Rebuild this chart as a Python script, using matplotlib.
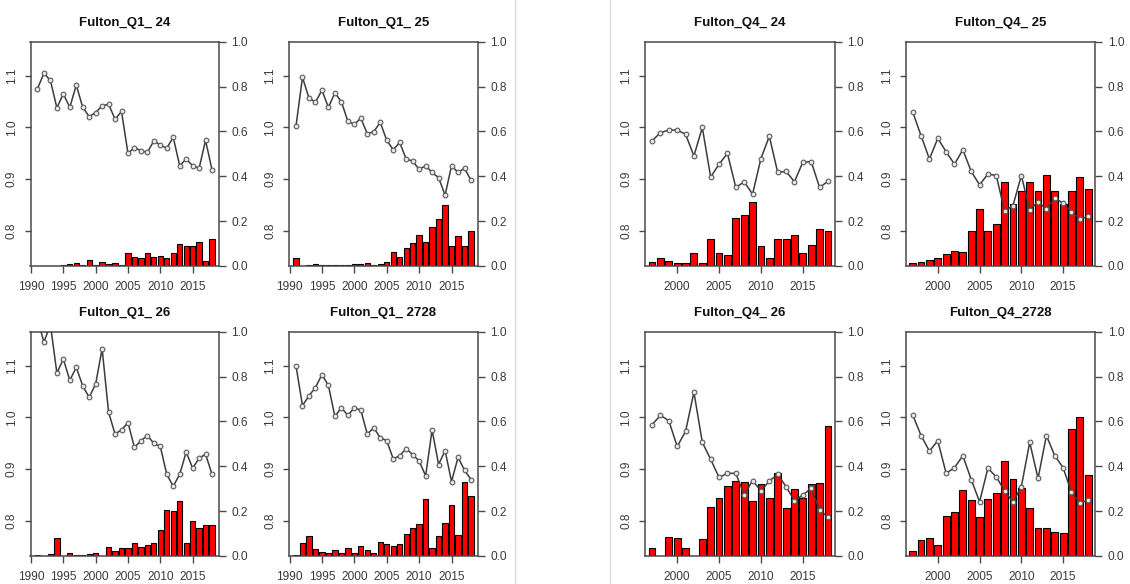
import matplotlib
matplotlib.use("Agg")
import matplotlib.pyplot as plt
from matplotlib.lines import Line2D

plt.rcParams['font.family'] = ['Liberation Sans', 'DejaVu Sans']

W, H = 1130, 584

years_q1 = list(range(1991, 2019))
years_q4 = list(range(1997, 2019))

# ----- condition factor (left axis, line) -----
k_q1_24 = [1.075, 1.105, 1.091, 1.038, 1.065, 1.039, 1.082, 1.039, 1.021, 1.029,
           1.042, 1.045, 1.016, 1.031, 0.950, 0.961, 0.955, 0.952, 0.974, 0.966,
           0.960, 0.981, 0.926, 0.939, 0.926, 0.921, 0.975, 0.918]
k_q1_25 = [1.003, 1.097, 1.057, 1.049, 1.072, 1.039, 1.067, 1.050, 1.012, 1.006,
           1.018, 0.988, 0.992, 1.010, 0.975, 0.957, 0.971, 0.939, 0.935, 0.919,
           0.926, 0.913, 0.903, 0.869, 0.926, 0.913, 0.921, 0.898]
k_q1_26 = [1.190, 1.146, 1.180, 1.086, 1.113, 1.072, 1.097, 1.061, 1.039, 1.065,
           1.133, 1.010, 0.968, 0.976, 0.990, 0.942, 0.955, 0.965, 0.950, 0.944,
           0.890, 0.867, 0.890, 0.933, 0.902, 0.921, 0.929, 0.890]
k_q1_2728 = [1.100, 1.023, 1.042, 1.058, 1.083, 1.062, 1.002, 1.019, 1.004, 1.019,
             1.014, 0.968, 0.980, 0.961, 0.955, 0.920, 0.926, 0.940, 0.928, 0.916,
             0.887, 0.976, 0.909, 0.936, 0.876, 0.923, 0.898, 0.880]
k_q4_24 = [0.974, 0.990, 0.995, 0.995, 0.987, 0.945, 1.000, 0.904, 0.929, 0.950,
           0.884, 0.895, 0.871, 0.940, 0.983, 0.913, 0.915, 0.895, 0.933, 0.934,
           0.884, 0.896]
k_q4_25 = [1.030, 0.984, 0.939, 0.979, 0.953, 0.929, 0.957, 0.915, 0.889, 0.910,
           0.907, 0.838, 0.849, 0.907, 0.841, 0.856, 0.842, 0.864, 0.853, 0.837,
           0.823, 0.828]
k_q4_26 = [0.986, 1.004, 0.994, 0.944, 0.973, 1.049, 0.952, 0.919, 0.884, 0.892,
           0.892, 0.850, 0.878, 0.858, 0.877, 0.890, 0.866, 0.839, 0.850, 0.863,
           0.821, 0.807]
k_q4_2728 = [1.005, 0.965, 0.935, 0.955, 0.892, 0.903, 0.926, 0.880, 0.837, 0.902,
             0.885, 0.858, 0.836, 0.866, 0.952, 0.882, 0.965, 0.926, 0.903, 0.855,
             0.835, 0.840]

# ----- proportion (right axis, bars) -----
p_q1_24 = [0.0, 0.0, 0.0, 0.0, 0.003, 0.009, 0.015, 0.003, 0.028, 0.004,
           0.019, 0.009, 0.012, 0.003, 0.057, 0.039, 0.034, 0.060, 0.042, 0.046,
           0.037, 0.057, 0.097, 0.091, 0.087, 0.109, 0.022, 0.122]
p_q1_25 = [0.037, 0.0, 0.006, 0.009, 0.006, 0.006, 0.003, 0.006, 0.003, 0.010,
           0.010, 0.015, 0.003, 0.007, 0.018, 0.064, 0.039, 0.082, 0.104, 0.140,
           0.107, 0.176, 0.209, 0.272, 0.090, 0.134, 0.087, 0.154]
p_q1_26 = [0.003, 0.0, 0.007, 0.079, 0.0, 0.012, 0.003, 0.003, 0.010, 0.015,
           0.0, 0.042, 0.021, 0.034, 0.037, 0.057, 0.042, 0.049, 0.057, 0.116,
           0.206, 0.199, 0.246, 0.057, 0.158, 0.127, 0.137, 0.140]
p_q1_2728 = [0.004, 0.060, 0.090, 0.030, 0.018, 0.012, 0.027, 0.012, 0.034, 0.015,
             0.045, 0.027, 0.015, 0.063, 0.054, 0.045, 0.052, 0.097, 0.127, 0.142,
             0.254, 0.037, 0.090, 0.149, 0.227, 0.094, 0.331, 0.269]
p_q4_24 = [0.019, 0.037, 0.022, 0.012, 0.015, 0.057, 0.015, 0.119, 0.057, 0.049,
           0.213, 0.228, 0.284, 0.090, 0.034, 0.119, 0.119, 0.137, 0.057, 0.094,
           0.167, 0.154]
p_q4_25 = [0.015, 0.018, 0.025, 0.037, 0.054, 0.069, 0.064, 0.154, 0.255, 0.154,
           0.187, 0.373, 0.276, 0.333, 0.373, 0.333, 0.407, 0.336, 0.276, 0.333,
           0.396, 0.345]
p_q4_26 = [0.037, 0.0, 0.084, 0.079, 0.037, 0.0, 0.078, 0.218, 0.258, 0.313,
           0.336, 0.330, 0.243, 0.321, 0.258, 0.370, 0.213, 0.299, 0.258, 0.321,
           0.325, 0.579]
p_q4_2728 = [0.022, 0.072, 0.079, 0.049, 0.179, 0.194, 0.296, 0.251, 0.172, 0.255,
             0.281, 0.422, 0.343, 0.303, 0.216, 0.127, 0.127, 0.109, 0.101, 0.564,
             0.619, 0.363]

xt_q1 = [1990, 1995, 2000, 2005, 2010, 2015]
xt_q4 = [2000, 2005, 2010, 2015]
k_ticks = [0.8, 0.9, 1.0, 1.1]
p_ticks = [0.0, 0.2, 0.4, 0.6, 0.8, 1.0]

TXT = '#3a3a3a'
BOX = '#4a4a4a'

fig = plt.figure(figsize=(W / 100, H / 100), dpi=100)
fig.patch.set_facecolor('white')


def draw_panel(title, years, k, p, xt, box):
    l, t, w, h = box
    rect = [l / W, 1 - (t + h) / H, w / W, h / H]
    span = years[-1] - years[0]
    xlim = (years[0] - 0.04 * span, years[-1] + 0.04 * span)

    # bars, right axis
    axb = fig.add_axes(rect)
    axb.bar(years, p, width=0.82, color='#ff0000', edgecolor='black', linewidth=0.8)
    axb.set_xlim(*xlim)
    axb.set_ylim(0, 1)
    axb.yaxis.tick_right()
    axb.set_yticks(p_ticks)
    axb.set_yticklabels(['%.1f' % v for v in p_ticks])
    axb.set_xticks(xt)
    axb.set_xticklabels([str(v) for v in xt])
    axb.tick_params(axis='both', colors=BOX, labelcolor=TXT, labelsize=8.6,
                    length=5, width=1)
    axb.tick_params(axis='x', pad=6)
    axb.tick_params(axis='y', pad=4)
    for s in axb.spines.values():
        s.set_color(BOX)
        s.set_linewidth(1.1)

    # condition factor, left axis
    axl = fig.add_axes(rect, facecolor='none')
    axl.plot(years, k, color='#3c3c3c', lw=1.1, marker='o', ms=3.4,
             mfc='#e8e8e8', mec='#5a5a5a', mew=0.8)
    axl.set_xlim(*xlim)
    axl.set_ylim(0.732, 1.166)
    axl.set_xticks([])
    axl.set_yticks(k_ticks)
    axl.set_yticklabels(['%.1f' % v for v in k_ticks], rotation=90, va='center')
    axl.tick_params(axis='y', colors=BOX, labelcolor=TXT, labelsize=8.6,
                    length=4, width=1, pad=5)
    for s in axl.spines.values():
        s.set_visible(False)

    fig.text((l + w / 2) / W, 1 - (t - 19) / H, title, ha='center', va='center',
             fontsize=9.5, fontweight='bold', color='#111111')


draw_panel("Fulton_Q1_ 24", years_q1, k_q1_24, p_q1_24, xt_q1, (30.5, 41.7, 188.5, 224.3))
draw_panel("Fulton_Q1_ 25", years_q1, k_q1_25, p_q1_25, xt_q1, (289.0, 41.7, 189.0, 224.3))
draw_panel("Fulton_Q1_ 26", years_q1, k_q1_26, p_q1_26, xt_q1, (30.5, 331.7, 188.5, 224.3))
draw_panel("Fulton_Q1_ 2728", years_q1, k_q1_2728, p_q1_2728, xt_q1, (289.0, 331.7, 189.0, 224.3))
draw_panel("Fulton_Q4_ 24", years_q4, k_q4_24, p_q4_24, xt_q4, (645.0, 41.7, 190.0, 224.3))
draw_panel("Fulton_Q4_ 25", years_q4, k_q4_25, p_q4_25, xt_q4, (905.7, 41.7, 189.5, 224.3))
draw_panel("Fulton_Q4_ 26", years_q4, k_q4_26, p_q4_26, xt_q4, (645.0, 331.7, 190.0, 224.3))
draw_panel("Fulton_Q4_2728", years_q4, k_q4_2728, p_q4_2728, xt_q4, (905.7, 331.7, 189.5, 224.3))

# faint separators between the two image groups
for xp in (514.5, 609.5):
    fig.add_artist(Line2D([xp / W, xp / W], [0, 1], color='#dcdcdc', lw=1,
                          transform=fig.transFigure))

fig.savefig('out.png', dpi=100)
